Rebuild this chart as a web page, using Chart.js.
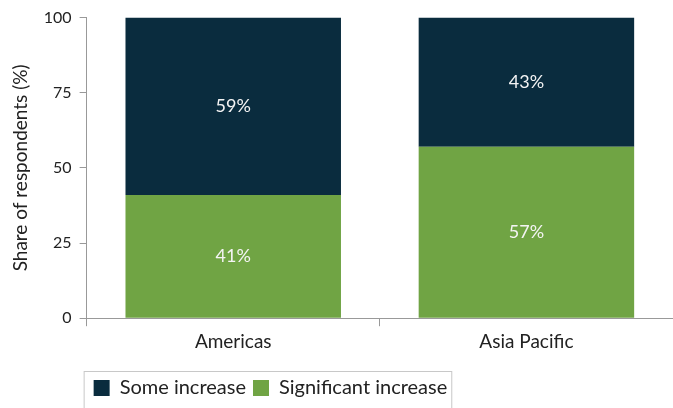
<!DOCTYPE html>
<html>
<head>
<meta charset="utf-8">
<script src="https://cdn.jsdelivr.net/npm/chart.js@4"></script>
<style>
  body { margin: 0; background: #fff; }
</style>
</head>
<body>
<canvas id="myChart" width="673" height="408"></canvas>
<script>
const categories = ['Americas', 'Asia Pacific'];
const significantIncrease = [41, 57];
const someIncrease = [59, 43];
const yTicks = [0, 25, 50, 75, 100];

const FONT = 'Lato, "Noto Sans", sans-serif';

// white % labels in the middle of each segment
const barLabels = {
  id: 'barLabels',
  afterDatasetsDraw(chart) {
    const ctx = chart.ctx;
    ctx.save();
    ctx.fillStyle = '#f4f4f4';
    ctx.font = '18px ' + FONT;
    ctx.textAlign = 'center';
    ctx.textBaseline = 'middle';
    chart.data.datasets.forEach((ds, i) => {
      chart.getDatasetMeta(i).data.forEach((bar, j) => {
        const p = bar.getProps(['x', 'y', 'base'], true);
        ctx.fillText(ds.data[j] + '%', p.x, (p.y + p.base) / 2);
      });
    });
    ctx.restore();
  }
};

// thin grey frame around the legend
const legendFrame = {
  id: 'legendFrame',
  afterDraw(chart) {
    const lg = chart.legend;
    if (!lg || !lg.legendHitBoxes.length) return;
    const boxes = lg.legendHitBoxes;
    const left = Math.min(...boxes.map(b => b.left)) - 10;
    const right = Math.max(...boxes.map(b => b.left + b.width)) + 4;
    const ctx = chart.ctx;
    ctx.save();
    ctx.strokeStyle = '#c8c8c8';
    ctx.lineWidth = 1;
    ctx.strokeRect(left + 0.5, lg.top + 0.5, right - left, lg.height + 10);
    ctx.restore();
  }
};

new Chart(document.getElementById('myChart'), {
  type: 'bar',
  data: {
    labels: categories,
    datasets: [
      { label: 'Significant increase', data: significantIncrease, backgroundColor: '#70a444', barPercentage: 0.735, categoryPercentage: 1 },
      { label: 'Some increase', data: someIncrease, backgroundColor: '#0a2c3e', barPercentage: 0.735, categoryPercentage: 1 }
    ]
  },
  options: {
    responsive: false,
    animation: false,
    layout: { padding: { top: 11, right: 0, left: 9, bottom: 0 } },
    plugins: {
      tooltip: { enabled: false },
      legend: {
        position: 'bottom',
        align: 'start',
        fullSize: false,
        reverse: true,
        labels: {
          boxWidth: 16,
          boxHeight: 16,
          padding: 7,
          color: '#222',
          font: { family: FONT, size: 20 }
        }
      }
    },
    scales: {
      x: {
        stacked: true,
        grid: { drawOnChartArea: false, drawTicks: true, tickLength: 8, color: '#999', offset: true },
        border: { color: '#999' },
        ticks: { color: '#222', font: { family: FONT, size: 19 }, padding: 4 },
        afterFit: s => { s.height += 14; }
      },
      y: {
        stacked: true,
        min: 0,
        max: 100,
        afterBuildTicks: s => { s.ticks = yTicks.map(v => ({ value: v })); },
        grid: { drawOnChartArea: false, drawTicks: true, tickLength: 7, color: '#999' },
        border: { color: '#999' },
        ticks: { color: '#222', font: { family: FONT, size: 16 }, padding: 8 },
        title: {
          display: true,
          text: 'Share of respondents (%)',
          color: '#222',
          font: { family: FONT, size: 19 },
          padding: { top: 0, bottom: 4 }
        }
      }
    }
  },
  plugins: [barLabels, legendFrame]
});
</script>
</body>
</html>
